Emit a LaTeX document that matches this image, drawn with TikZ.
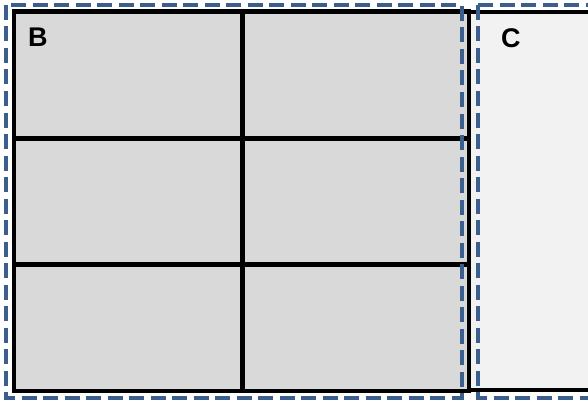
\documentclass[tikz,border=0pt]{standalone}
\usepackage{fontspec}
\setmainfont{Liberation Sans}
\usepackage{tikz}
\usetikzlibrary{positioning}
\definecolor{cellgray}{HTML}{D9D9D9}
\definecolor{cellpale}{HTML}{F2F2F2}
\definecolor{groupblue}{HTML}{3B5E8C}

\begin{document}
\begin{tikzpicture}[
    x=1pt, y=-1pt,
    cell/.style={rectangle, draw=black, line width=4.5pt, fill=cellgray, inner sep=0pt, minimum width=228pt, minimum height=126.5pt},
    spare/.style={rectangle, draw=black, line width=4.5pt, fill=cellpale, inner sep=0pt, minimum width=150pt, minimum height=378pt},
    group/.style={draw=groupblue, line width=4pt, dash pattern=on 15pt off 6.5pt},
    tag/.style={font=\bfseries\fontsize{27}{30}\selectfont, anchor=north west, inner sep=0pt}
]
\useasboundingbox (0,0) rectangle (588,401);
\clip (0,0) rectangle (588,401);

% Nodes
\node[cell] (b11) at (128,75) {};
\node[cell, minimum width=226pt] (b12) at (356,75) {};
\node[cell] (b21) at (128,201.5) {};
\node[cell, minimum width=226pt] (b22) at (356,201.5) {};
\node[cell] (b31) at (128,327.5) {};
\node[cell, minimum width=226pt] (b32) at (356,327.5) {};
\node[spare] (c) at (544,201) {};

% Labels
\node[tag] (labelb) at (28,28) {B};
\node[tag] (labelc) at (501,28) {C};

% Groups (dashed)
\draw[group] (6,5) rectangle (461.5,398);
\draw[group] (478,5) rectangle (630,398);

\end{tikzpicture}
\end{document}
